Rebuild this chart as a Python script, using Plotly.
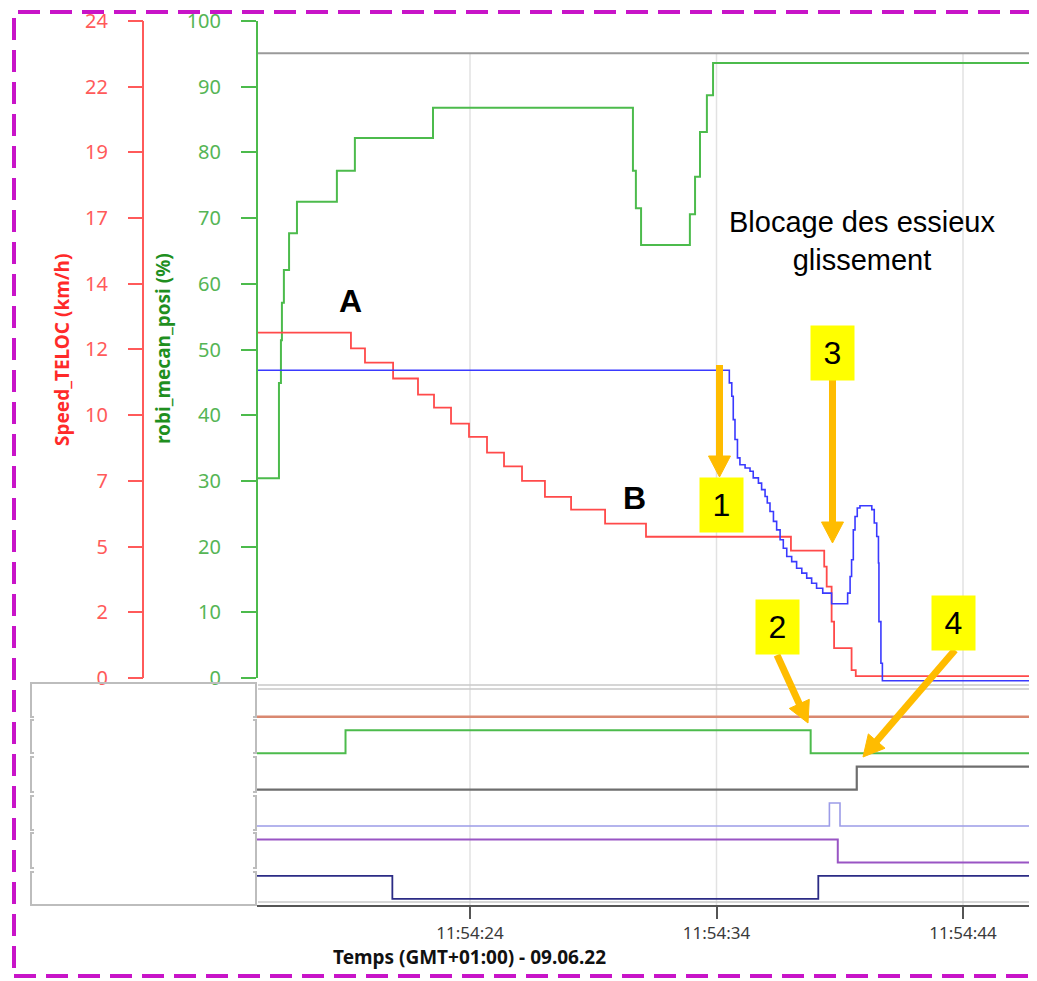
import math
import pandas as pd
import plotly.graph_objects as go

# ---------------- data (seconds after 11:54:00, 09.06.2022) ----------------
green_t = [15.36, 16.25, 16.33, 16.37, 16.45, 16.66, 16.98, 18.60, 19.33, 22.50,
           30.61, 30.73, 30.94, 32.92, 33.13, 33.33, 33.61, 33.86, 46.72]
green_v = [30.4, 44.9, 51.4, 57.1, 62.1, 67.7, 72.5, 77.2, 82.2, 86.8,
           77.2, 71.5, 65.9, 70.6, 76.3, 83.1, 88.7, 93.6, 93.6]

grey_t = [15.36, 46.72]
grey_v = [95.1, 95.1]

speed_t = [15.36, 19.17, 19.74, 20.88, 21.89, 22.54, 23.23, 23.96, 24.69, 25.38,
           26.11, 27.04, 28.10, 29.48, 31.14, 37.02, 38.37, 38.47, 38.67, 38.77,
           39.48, 39.65, 46.72]
speed_v = [12.62, 12.04, 11.52, 10.94, 10.35, 9.88, 9.29, 8.81, 8.23, 7.73,
           7.20, 6.62, 6.15, 5.64, 5.16, 4.65, 4.07, 3.34, 2.06, 1.09,
           0.29, 0.07, 0.07]

blue_t = [15.36, 34.52, 34.62, 34.68, 34.75, 34.85, 34.95, 35.16, 35.36, 35.49,
          35.70, 35.83, 35.97, 36.06, 36.17, 36.31, 36.44, 36.58, 36.71, 36.85,
          37.05, 37.25, 37.46, 37.66, 37.86, 38.06, 38.31, 38.67, 39.32, 39.42,
          39.48, 39.55, 39.62, 39.71, 39.82, 40.30, 40.40, 40.50, 40.57, 40.59,
          40.67, 40.73, 46.72]
blue_v = [11.24, 10.78, 10.29, 9.44, 8.71, 8.04, 7.79, 7.67, 7.55, 7.31,
          7.12, 6.88, 6.63, 6.39, 6.08, 5.72, 5.41, 5.05, 4.74, 4.44,
          4.25, 4.01, 3.83, 3.65, 3.46, 3.28, 3.10, 2.71, 3.10, 3.71,
          4.32, 5.41, 5.90, 6.21, 6.29, 6.15, 5.66, 5.17, 4.20, 2.06,
          0.54, -0.10, -0.10]

# digital signals (lower panel)
sig1_t = [15.36, 46.72]
sig1_v = [0, 0]
sig2_t = [15.36, 18.95, 37.82, 46.72]
sig2_v = [0, 1, 0, 0]
sig3_t = [15.36, 39.69, 46.72]
sig3_v = [0, 1, 1]
sig4_t = [15.36, 38.58, 39.01, 46.72]
sig4_v = [0, 1, 0, 0]
sig5_t = [15.36, 38.92, 46.72]
sig5_v = [1, 0, 0]
sig6_t = [15.36, 20.85, 38.13, 46.72]
sig6_v = [1, 0, 1, 1]

x_ticks = [24, 34, 44]
green_ticks = [0, 10, 20, 30, 40, 50, 60, 70, 80, 90, 100]
red_ticks = [0, 2.4, 4.8, 7.2, 9.6, 12, 14.4, 16.8, 19.2, 21.6, 24]
red_ticktext = ["0", "2", "5", "7", "10", "12", "14", "17", "19", "22", "24"]

BASE = pd.Timestamp("2022-06-09 11:54:00")


def T(secs):
    return [BASE + pd.Timedelta(seconds=s) for s in secs]


# ---------------- layout helpers (page pixel -> paper) ----------------
# the page body has an 8px margin, so the figure is made 8px smaller
OFF = 8
FW, FH = 1037 - OFF, 981 - OFF
PL, PR, PT, PB = 140, 1030, 10, 906          # plot area in page pixels
ML, MR, MT, MB = PL - OFF, (OFF + FW) - PR, PT - OFF, (OFF + FH) - PB
PW = PR - PL
PH = PB - PT


def px(x):
    return (x - PL) / PW


def py(y):
    return (PB - y) / PH


T_LEFT = 24 - (470 - 257) / 24.65
T_RIGHT = 24 + (1030 - 470) / 24.65

fig = go.Figure()

GREEN = "#4cbb4c"
RED = "#ff4a4a"
BLUE = "#3a3aff"

fig.add_trace(go.Scatter(x=T(grey_t), y=grey_v, mode="lines", line=dict(color="#9a9a9a", width=2),
                         line_shape="hv", yaxis="y", showlegend=False, hoverinfo="skip"))
fig.add_trace(go.Scatter(x=T(green_t), y=green_v, mode="lines", line=dict(color=GREEN, width=2),
                         line_shape="hv", yaxis="y", showlegend=False, name="robi_mecan_posi"))
fig.add_trace(go.Scatter(x=T(speed_t), y=speed_v, mode="lines", line=dict(color=RED, width=1.8),
                         line_shape="hv", yaxis="y2", showlegend=False, name="Speed_TELOC"))
fig.add_trace(go.Scatter(x=T(blue_t), y=blue_v, mode="lines", line=dict(color=BLUE, width=1.6),
                         line_shape="hv", yaxis="y2", showlegend=False, name="axle"))

sigs = [(sig1_t, sig1_v, "#d98870", 2.6), (sig2_t, sig2_v, "#4cbb4c", 2),
        (sig3_t, sig3_v, "#6e6e6e", 2.2), (sig4_t, sig4_v, "#9c9ce8", 1.6),
        (sig5_t, sig5_v, "#9955c4", 2), (sig6_t, sig6_v, "#2b2b85", 1.8)]
for i, (st, sv, col, w) in enumerate(sigs):
    fig.add_trace(go.Scatter(x=T(st), y=sv, mode="lines", line=dict(color=col, width=w),
                             line_shape="hv", yaxis="y%d" % (i + 3), showlegend=False, hoverinfo="skip"))

# main panel: value 0 at page y=678, value 100 at page y=21 (6.57 px per unit)
PXU = (678 - 21) / 100.0
G_LO, G_HI = -1.5, 101.5
layout = dict(
    width=FW, height=FH, autosize=False,
    margin=dict(l=ML, r=MR, t=MT, b=MB, pad=0, autoexpand=False),
    paper_bgcolor="white", plot_bgcolor="rgba(0,0,0,0)",
    font=dict(family="Noto Sans, Open Sans, sans-serif"),
    showlegend=False,
    xaxis=dict(
        domain=[px(257), 1], anchor="free", position=0, automargin=False,
        type="date", range=[BASE + pd.Timedelta(seconds=T_LEFT), BASE + pd.Timedelta(seconds=T_RIGHT)],
        tickvals=T(x_ticks), tickformat="%H:%M:%S",
        ticks="outside", ticklen=12, tickwidth=2, tickcolor="#555",
        showline=True, linecolor="#555", linewidth=2,
        showgrid=False, zeroline=False,
        tickfont=dict(size=17, color="#3a3a3a"),
    ),
    yaxis=dict(
        domain=[py(678 - G_LO * PXU), py(678 - G_HI * PXU)], anchor="x", range=[G_LO, G_HI],
        automargin=False,
        tickvals=green_ticks, ticks="outside", ticklen=15, tickwidth=2, tickcolor=GREEN,
        showline=False, showgrid=False, zeroline=False, ticklabeloverflow="allow",
        tickfont=dict(size=20, color="#55b555"), ticklabelstandoff=16,
    ),
    yaxis2=dict(
        overlaying="y", anchor="free", position=px(143), side="left", automargin=False,
        range=[G_LO * 0.24, G_HI * 0.24], tickvals=red_ticks, ticktext=red_ticktext,
        ticks="outside", ticklen=15, tickwidth=2, tickcolor="#ff5a5a",
        showline=False, showgrid=False, zeroline=False, ticklabeloverflow="allow",
        tickfont=dict(size=20, color="#ff5a5a"), ticklabelstandoff=16,
    ),
)
for i in range(6):
    z = 716.8 + 36.4 * i
    layout["yaxis%d" % (i + 3)] = dict(domain=[py(z + 3), py(z - 30)], range=[-3 / 23, 30 / 23],
                                      visible=False, anchor="x", automargin=False)
fig.update_layout(**layout)

shapes = []
# vertical grid lines
for tv in T(x_ticks):
    shapes.append(dict(type="line", xref="x", yref="paper", x0=tv, x1=tv, y0=0, y1=py(54),
                       line=dict(color="#e2e2e2", width=1.5), layer="below"))
# axis lines
shapes.append(dict(type="line", xref="paper", yref="y", x0=px(257), x1=px(257), y0=0, y1=100,
                   line=dict(color=GREEN, width=2)))
shapes.append(dict(type="line", xref="paper", yref="y2", x0=px(143), x1=px(143), y0=0, y1=24,
                   line=dict(color="#ff5a5a", width=2)))
# separators in lower panel
for yy, col in [(685, "#c8c8c8"), (689, "#c8c8c8"), (902, "#c8c8c8")]:
    shapes.append(dict(type="line", xref="paper", yref="paper", x0=px(258), x1=1, y0=py(yy), y1=py(yy),
                       line=dict(color=col, width=1.5)))
# left bracket box
BOXC = "#bdbdbd"
shapes.append(dict(type="line", xref="paper", yref="paper", x0=px(31), x1=px(256), y0=py(683), y1=py(683),
                   line=dict(color=BOXC, width=2)))
shapes.append(dict(type="line", xref="paper", yref="paper", x0=px(31), x1=px(256), y0=py(905), y1=py(905),
                   line=dict(color=BOXC, width=2)))
for (a, b) in [(683, 717), (720, 753), (757, 792), (796, 830), (833, 868), (872, 905)]:
    shapes.append(dict(type="path", xref="paper", yref="paper",
                       path="M %f %f L %f %f L %f %f L %f %f" % (px(34), py(a), px(31), py(a), px(31), py(b), px(34), py(b)),
                       line=dict(color=BOXC, width=2)))
    shapes.append(dict(type="path", xref="paper", yref="paper",
                       path="M %f %f L %f %f L %f %f L %f %f" % (px(253), py(a), px(256), py(a), px(256), py(b), px(253), py(b)),
                       line=dict(color=BOXC, width=2)))

# orange arrows
ARROW = "#ffbc00"


def arrow(x0, y0, x1, y1, head=21, half=11, w=7):
    dx, dy = x1 - x0, y1 - y0
    ln = math.hypot(dx, dy)
    ux, uy = dx / ln, dy / ln
    bx, by = x1 - head * ux, y1 - head * uy
    nx, ny = -uy, ux
    out = [dict(type="line", xref="paper", yref="paper", x0=px(x0), y0=py(y0), x1=px(bx + ux), y1=py(by + uy),
                line=dict(color=ARROW, width=w))]
    out.append(dict(type="path", xref="paper", yref="paper",
                    path="M %f %f L %f %f L %f %f Z" % (px(bx + half * nx), py(by + half * ny),
                                                        px(bx - half * nx), py(by - half * ny),
                                                        px(x1), py(y1)),
                    fillcolor=ARROW, line=dict(color=ARROW, width=1)))
    return out


shapes += arrow(719.5, 365, 719.5, 477)
shapes += arrow(832.5, 378, 832.5, 543)
shapes += arrow(777, 655, 808, 723)
shapes += arrow(955, 650, 863, 757)

# magenta dashed frame
shapes.append(dict(type="rect", xref="paper", yref="paper", x0=px(14), x1=px(1033), y0=py(976), y1=py(12),
                   line=dict(color="#c814c8", width=4, dash="22px,10px")))
fig.update_layout(shapes=shapes)

C = dict(xref="paper", yref="paper", xanchor="center", yanchor="middle", showarrow=False)
ann = []
ann.append(dict(text="<b>Speed_TELOC (km/h)</b>", x=px(62), y=py(350), textangle=-90,
                font=dict(size=19, color="#ff2a2a"), **C))
ann.append(dict(text="<b>robi_mecan_posi (%)</b>", x=px(163), y=py(349), textangle=-90,
                font=dict(size=19, color="#1f8f1f"), **C))
ann.append(dict(text="<b>Temps (GMT+01:00) - 09.06.22</b>", x=px(469), y=py(957),
                font=dict(size=19, color="#111"), **C))
ann.append(dict(text="<b>A</b>", x=px(350), y=py(301),
                font=dict(size=32, color="black", family="Liberation Sans, Arial"), **C))
ann.append(dict(text="<b>B</b>", x=px(634), y=py(498),
                font=dict(size=32, color="black", family="Liberation Sans, Arial"), **C))
ann.append(dict(text="Blocage des essieux<br>glissement", x=px(861.5), y=py(240.5),
                font=dict(size=29, color="black", family="Liberation Sans, Arial"), **C))
for txt, cx, cy in [("1", 721.5, 505), ("3", 832.5, 353), ("2", 777.5, 627), ("4", 953.5, 622.5)]:
    ann.append(dict(text=txt, x=px(cx), y=py(cy),
                    bgcolor="#ffff00", width=43, height=54, borderpad=0,
                    font=dict(size=32, color="black", family="Liberation Sans, Arial"), **C))
fig.update_layout(annotations=ann)

fig.write_html("out.html")
